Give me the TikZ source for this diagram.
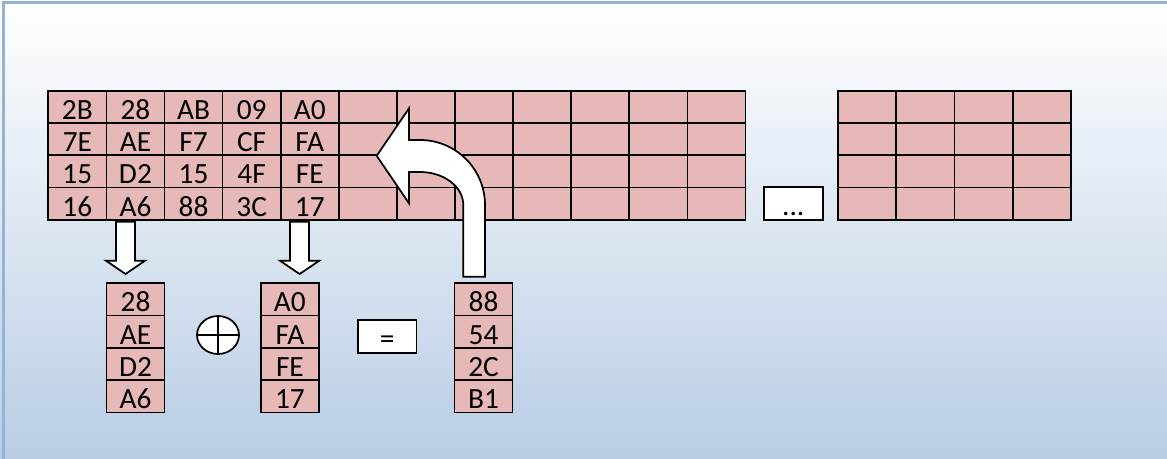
\documentclass[tikz,border=0pt]{standalone}
\usepackage{fontspec}
\setmainfont{Carlito}
\usetikzlibrary{shapes.geometric}
\definecolor{cellred}{HTML}{E6B9B8}
\definecolor{bgbot}{HTML}{B9CDE5}
\definecolor{bord}{HTML}{95B3D7}
\begin{document}
\begin{tikzpicture}[x=0.75pt,y=-0.75pt,
  cell/.style={draw=black,fill=cellred,line width=1.3pt,minimum width=43.6pt,minimum height=24.2pt,
    inner sep=0pt,text height=18.8pt,text depth=0pt,font=\fontsize{22pt}{24pt}\selectfont},
  wbox/.style={cell,fill=white,minimum width=44pt,minimum height=24.6pt},
  blockarrow/.style={draw=black,fill=white,line width=1.3pt,line join=miter}]
\useasboundingbox (0,0) rectangle (1167,458);
\begin{scope}
  \clip (0,0) rectangle (1167,458);
  \shade[top color=white,bottom color=bgbot] (0,0) rectangle (1167,458);
  \draw[bord,line width=2.4pt] (3.3,2.2) rectangle (1180,470);
\end{scope}
% main grid
\foreach \t [count=\c from 0] in {2B,28,AB,09,A0}
  \node[cell] (m-0-\c) at ({48.3+58.1*(\c+0.5)},{90.7+32.3*0.5}) {\t};
\foreach \t [count=\c from 0] in {7E,AE,F7,CF,FA}
  \node[cell] (m-1-\c) at ({48.3+58.1*(\c+0.5)},{90.7+32.3*1.5}) {\t};
\foreach \t [count=\c from 0] in {15,D2,15,4F,FE}
  \node[cell] (m-2-\c) at ({48.3+58.1*(\c+0.5)},{90.7+32.3*2.5}) {\t};
\foreach \t [count=\c from 0] in {16,A6,88,3C,17}
  \node[cell] (m-3-\c) at ({48.3+58.1*(\c+0.5)},{90.7+32.3*3.5}) {\t};
\foreach \r in {0,...,3}
  \foreach \c in {5,...,11}
    \node[cell] (m-\r-\c) at ({48.3+58.1*(\c+0.5)},{90.7+32.3*(\r+0.5)}) {};
% right grid
\foreach \r in {0,...,3}
  \foreach \c in {0,...,3}
    \node[cell] (g-\r-\c) at ({838+58.2*(\c+0.5)},{90.7+32.3*(\r+0.5)}) {};
% ellipsis box
\node[wbox] (dots) at (793.3,203.3) {...};
% lower columns
\foreach \t [count=\i from 0] in {28,AE,D2,A6}
  \node[cell] (a-\i) at (135.5,{283.3+32.3*(\i+0.5)}) {\t};
\foreach \t [count=\i from 0] in {A0,FA,FE,17}
  \node[cell] (b-\i) at (289.9,{283.3+32.3*(\i+0.5)}) {\t};
\foreach \t [count=\i from 0] in {88,54,2C,B1}
  \node[cell] (c-\i) at (483.5,{283.3+32.3*(\i+0.5)}) {\t};
% xor symbol
\node[draw,ellipse,fill=white,line width=1.3pt,minimum width=31.5pt,minimum height=28.5pt,inner sep=0pt] (xor) at (218,335) {};
\draw[line width=1.3pt] (xor.north) -- (xor.south) (xor.west) -- (xor.east);
% equals box
\node[wbox] (eq) at (387.2,336.3) {=};
% down arrows
\draw[blockarrow] (116,221.7) -- (135,221.7) -- (135,260.7) -- (145,260.7) -- (125.5,274) -- (106,260.7) -- (116,260.7) -- cycle;
\draw[blockarrow] (290,221.7) -- (309,221.7) -- (309,260.7) -- (319.3,260.7) -- (299.6,274) -- (280,260.7) -- (290,260.7) -- cycle;
% curved arrow
\draw[blockarrow] (463.3,276.7) -- (463.3,205)
  arc[start angle=0,end angle=90,x radius=32.475pt,y radius=24.75pt]
  -- (409,172) -- (409,203.3) -- (376.7,155.8) -- (409,108.3) -- (409,140) -- (420,140)
  arc[start angle=90,end angle=0,radius=48.75pt]
  -- (485,276.7) -- cycle;
\end{tikzpicture}
\end{document}
